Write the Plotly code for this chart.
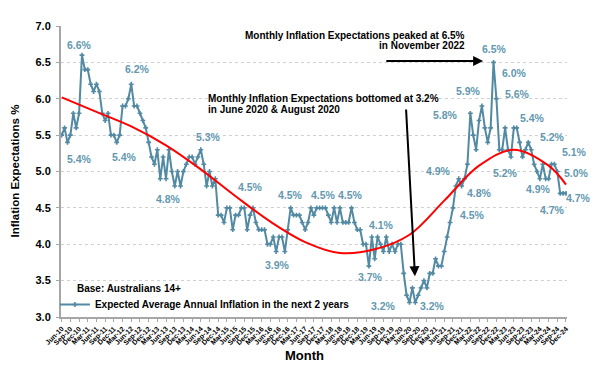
import pandas as pd
import plotly.graph_objects as go

# ---------------- data ----------------
months = [d.strftime("%b-%y") for d in pd.date_range("2010-06-01", "2024-12-01", freq="MS")]

expectations = [
    5.5, 5.6, 5.4, 5.5, 5.8, 5.6, 5.8,                               # Jun-Dec 2010
    6.6, 6.4, 6.4, 6.2, 6.1, 6.2, 6.1, 5.8, 5.7, 5.8, 5.5, 5.5,      # 2011
    5.4, 5.5, 5.9, 5.9, 6.0, 6.2, 5.9, 5.9, 5.8, 5.7, 5.6, 5.4,      # 2012
    5.2, 5.1, 5.3, 4.9, 5.2, 4.9, 5.3, 5.0, 4.8, 5.0, 4.8, 5.0,      # 2013
    5.1, 5.2, 5.2, 5.1, 5.2, 5.3, 5.1, 4.8, 5.0, 4.8, 4.9, 4.4,      # 2014
    4.4, 4.3, 4.5, 4.5, 4.2, 4.4, 4.4, 4.5, 4.5, 4.2, 4.4, 4.5,      # 2015
    4.3, 4.2, 4.2, 4.2, 4.0, 4.0, 4.1, 3.9, 4.1, 4.1, 3.9, 4.2,      # 2016
    4.5, 4.4, 4.4, 4.4, 4.3, 4.2, 4.3, 4.5, 4.4, 4.5, 4.5, 4.5,      # 2017
    4.5, 4.4, 4.3, 4.5, 4.3, 4.5, 4.3, 4.3, 4.3, 4.5, 4.3, 4.2,      # 2018
    4.2, 4.0, 4.0, 3.7, 4.1, 3.8, 4.1, 4.0, 3.9, 4.1, 3.9, 4.0,      # 2019
    3.9, 4.0, 4.0, 3.6, 3.3, 3.2, 3.4, 3.2, 3.3, 3.4, 3.5, 3.4,      # 2020
    3.6, 3.6, 3.8, 3.7, 3.7, 3.9, 4.1, 4.3, 4.5, 4.8, 4.9, 4.8,      # 2021
    4.9, 5.1, 5.8, 5.5, 5.3, 5.7, 5.9, 5.6, 5.4, 5.6, 6.5, 6.0,      # 2022
    5.3, 5.3, 5.6, 5.3, 5.2, 5.6, 5.6, 5.4, 5.2, 5.3, 5.4, 5.3,      # 2023
    5.1, 5.0, 4.9, 5.1, 4.9, 4.9, 5.1, 5.1, 5.0, 4.7, 4.7, 4.7,      # 2024
]

# red trend line at these months
trend_months = ["Jun-10", "Jun-11", "Jun-12", "Jun-13", "Jun-14", "Jun-15", "Jun-16", "Jun-17",
                "Jun-18", "Jun-19", "Jun-20", "Jun-21", "Jun-22", "Jun-23", "Jun-24", "Dec-24"]
trend_values = [6.02, 5.82, 5.62, 5.36, 5.03, 4.66, 4.31, 4.03,
                3.88, 3.93, 4.13, 4.60, 5.08, 5.30, 5.08, 4.82]

tick_labels = months[::3]

# data labels: (text, month position, level)
point_labels = [
    ("6.6%", 6.31, 6.739), ("5.4%", 6.31, 5.172), ("5.4%", 21.5, 5.199), ("6.2%", 26.3, 6.409),
    ("4.8%", 36.7, 4.622), ("5.3%", 50.5, 5.474), ("4.5%", 65.0, 4.787), ("3.9%", 74.3, 3.715),
    ("4.5%", 79.1, 4.677), ("4.5%", 90.5, 4.677), ("4.5%", 99.8, 4.677), ("4.1%", 110.2, 4.265),
    ("3.7%", 106.4, 3.550), ("3.2%", 110.9, 3.151), ("3.2%", 128.1, 3.151), ("4.9%", 129.9, 5.007),
    ("4.8%", 144.3, 4.704), ("4.5%", 141.9, 4.402), ("5.8%", 132.6, 5.777), ("5.9%", 140.5, 6.107),
    ("6.5%", 149.5, 6.684), ("6.0%", 156.4, 6.357), ("5.6%", 157.1, 6.069), ("5.4%", 162.6, 5.735),
    ("5.2%", 169.5, 5.474), ("5.1%", 176.8, 5.268), ("5.0%", 177.8, 4.979), ("4.7%", 178.2, 4.636),
    ("4.7%", 169.2, 4.471), ("4.9%", 164.4, 4.759), ("5.2%", 153.3, 4.979),
]

# ---------------- style ----------------
FONT = "Liberation Sans, Arial, sans-serif"
LINE_BLUE = "#5289a3"
LABEL_BLUE = "#6398b0"
AXIS_GREY = "#a6a6a6"
X_RANGE = [-0.24, 174.35]
Y_RANGE = [3, 7]
PLOT_L, PLOT_W, PLOT_B, PLOT_H = 61, 506, 317, 291


def to_paper_x(xi):
    return (xi - X_RANGE[0]) / (X_RANGE[1] - X_RANGE[0])


def to_paper_y(yv):
    return (yv - Y_RANGE[0]) / (Y_RANGE[1] - Y_RANGE[0])


def px_x(px):
    return (px - PLOT_L) / PLOT_W


def px_y(py):
    return (PLOT_B - py) / PLOT_H


fig = go.Figure()

fig.add_trace(go.Scatter(
    x=months, y=expectations, mode="lines+markers",
    name="<b>Expected Average Annual Inflation in the next 2 years</b>",
    line=dict(color=LINE_BLUE, width=2),
    marker=dict(symbol="cross", size=4, color=LINE_BLUE),
    showlegend=True,
))

fig.add_trace(go.Scatter(
    x=trend_months, y=trend_values, mode="lines",
    line=dict(color="#ff0000", width=2, shape="spline", smoothing=1.0),
    showlegend=False, hoverinfo="skip",
))

annotations = []
for text, xi, yv in point_labels:
    annotations.append(dict(
        x=to_paper_x(xi), y=to_paper_y(yv), xref="paper", yref="paper",
        text=f"<b>{text}</b>", showarrow=False,
        font=dict(family=FONT, size=10.5, color=LABEL_BLUE),
        xanchor="center", yanchor="middle",
    ))

# callout texts
annotations += [
    dict(x=px_x(467), y=px_y(35), xref="paper", yref="paper",
         text="<b>Monthly Inflation Expectations peaked at 6.5%</b>", showarrow=False,
         xanchor="right", yanchor="middle", font=dict(family=FONT, size=10, color="black")),
    dict(x=px_x(467), y=px_y(46), xref="paper", yref="paper",
         text="<b>in November 2022</b>", showarrow=False,
         xanchor="right", yanchor="middle", font=dict(family=FONT, size=10, color="black")),
    dict(x=px_x(206), y=px_y(98), xref="paper", yref="paper",
         text="<b>Monthly Inflation Expectations bottomed at 3.2%</b>", showarrow=False,
         xanchor="left", yanchor="middle", font=dict(family=FONT, size=10, color="black")),
    dict(x=px_x(206), y=px_y(109), xref="paper", yref="paper",
         text="<b>in June 2020 &amp; August 2020</b>", showarrow=False,
         xanchor="left", yanchor="middle", font=dict(family=FONT, size=10, color="black")),
    # arrows
    dict(x=145.4, y=6.519, xref="x", yref="y", ax=111.5, ay=6.519, axref="x", ayref="y",
         text="", showarrow=True, arrowhead=2, arrowsize=1, arrowwidth=2, arrowcolor="black"),
    dict(x=121.9, y=3.56, xref="x", yref="y", ax=118.8, ay=5.873, axref="x", ayref="y",
         text="", showarrow=True, arrowhead=2, arrowsize=1, arrowwidth=2, arrowcolor="black"),
    # legend base text
    dict(x=px_x(75), y=px_y(288), xref="paper", yref="paper",
         text="<b>Base: Australians 14+</b>", showarrow=False,
         xanchor="left", yanchor="middle", font=dict(family=FONT, size=10, color="black")),
    # axis titles
    dict(x=px_x(14), y=0.5, xref="paper", yref="paper",
         text="<b>Inflation Expectations %</b>", textangle=-90, showarrow=False,
         xanchor="center", yanchor="middle", font=dict(family=FONT, size=11.5, color="black")),
    dict(x=px_x(304), y=px_y(355), xref="paper", yref="paper",
         text="<b>Month</b>", showarrow=False,
         xanchor="center", yanchor="middle", font=dict(family=FONT, size=13, color="black")),
]

fig.update_layout(
    width=602, height=367,
    margin=dict(l=PLOT_L, r=602 - PLOT_L - PLOT_W, t=PLOT_B - PLOT_H, b=367 - PLOT_B, autoexpand=False),
    paper_bgcolor="white", plot_bgcolor="white",
    font=dict(family=FONT, color="black"),
    annotations=annotations,
    legend=dict(x=-0.012, y=px_y(290), xanchor="left", yanchor="top",
                bgcolor="rgba(0,0,0,0)", font=dict(family=FONT, size=10, color="black"),
                itemwidth=30, tracegroupgap=0),
    showlegend=True,
)

fig.update_xaxes(
    type="category", range=X_RANGE,
    tickmode="array", tickvals=tick_labels, ticktext=[f"<b>{t}</b>" for t in tick_labels],
    tickangle=-45, tickfont=dict(family=FONT, size=7, color="black"),
    ticks="outside", ticklen=3, tickcolor=AXIS_GREY,
    showline=True, linecolor=AXIS_GREY, linewidth=2, showgrid=False, zeroline=False,
)
fig.update_yaxes(
    range=Y_RANGE, dtick=0.5, tickformat=".1f",
    tickfont=dict(family=FONT, size=11, color="black"),
    ticks="outside", ticklen=3, tickcolor=AXIS_GREY, ticklabelstandoff=3,
    showline=True, linecolor=AXIS_GREY, linewidth=2,
    showgrid=True, gridcolor="#d0d0d0", griddash="dot", gridwidth=1, zeroline=False,
    tickprefix="<b>", ticksuffix="</b>",
)

fig.write_html("out.html", config={"displayModeBar": False},
               post_script="document.body.style.margin='0px';")
